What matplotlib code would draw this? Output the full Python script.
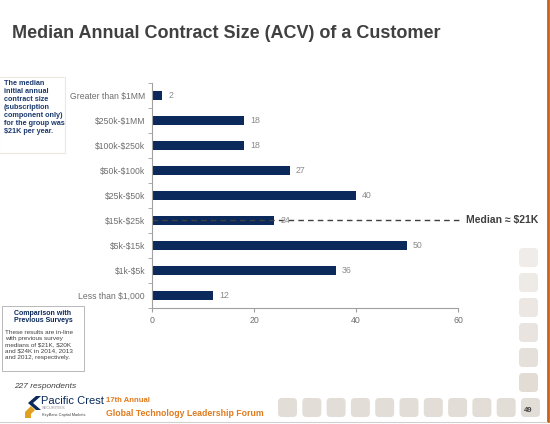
import numpy as np
import matplotlib
matplotlib.use("Agg")
import matplotlib.pyplot as plt
from matplotlib.patches import FancyBboxPatch, Rectangle, Polygon

plt.rcParams['font.family'] = ['Liberation Sans', 'DejaVu Sans']
plt.rcParams['text.parse_math'] = False

## data
categories = ["Greater than $1MM", "$250k-$1MM", "$100k-$250k", "$50k-$100k",
              "$25k-$50k", "$15k-$25k", "$5k-$15k", "$1k-$5k", "Less than $1,000"]
values = [2, 18, 18, 27, 40, 24, 50, 36, 12]
xticks = [0, 20, 40, 60]
median_row = "$15k-$25k"
median_label = "Median \u2248 $21K"

title = "Median Annual Contract Size (ACV) of a Customer"
side_note = "The median\ninitial annual\ncontract size\n(subscription\ncomponent only)\nfor the group was\n$21K per year."
box_title = "Comparison with\nPrevious Surveys"
box_body = ["These results are in-line", "with previous survey", "medians of $21K, $20K",
            "and $24K in 2014, 2013", "and 2012, respectively."]
respondents = "227 respondents"

navy = "#0b2a5b"
grey_txt = "#6e6e6e"
dark = "#404040"
orange = "#e07a1c"

W, H = 550, 424
fig = plt.figure(figsize=(W / 100, H / 100), dpi=100)

## slide background, pixel coordinates
bg = fig.add_axes([0, 0, 1, 1])
bg.set_xlim(0, W)
bg.set_ylim(H, 0)
bg.axis('off')

bg.text(12, 33, title, fontsize=13, fontweight='bold', color=dark, va='center', ha='left')

# note on the left
bg.add_patch(Rectangle((-1, 77), 66, 76, fc='white', ec='#ece8dc', lw=0.8))
bg.text(4, 80, side_note, fontsize=5.2, fontweight='bold', color='#1c3a6e',
        va='top', ha='left', linespacing=1.2)

# comparison box
bg.add_patch(Rectangle((2, 306), 82, 65, fc='white', ec='#b8b8b8', lw=0.7))
bg.text(43, 310, box_title, fontsize=5, fontweight='bold', color=navy,
        va='top', ha='center', linespacing=1.1)
for k, line in enumerate(box_body):
    bg.text(5, 332 + 6.3 * k, line, fontsize=4.6, color=dark, va='center', ha='left')

bg.text(14, 387, respondents, fontsize=6, style='italic', color=dark, va='center')

# logo
bg.add_patch(Polygon([(28, 403), (36, 396), (41, 396), (33, 403), (41, 410), (36, 410)],
                     fc=navy, ec='none'))
bg.add_patch(Polygon([(25, 418), (25, 412), (31, 406), (35, 410), (31, 414), (31, 418)],
                     fc='#e0a020', ec='none'))
bg.text(41, 401, "Pacific Crest", fontsize=8, color=navy, va='center')
bg.text(42, 408, "SECURITIES", fontsize=2.8, color='#909090', va='center')
bg.text(42, 415, "KeyBanc Capital Markets", fontsize=2.8, color=dark, va='center')
bg.text(106, 401, "17th Annual", fontsize=5.5, fontweight='bold', color=orange, va='center')
bg.text(106, 413, "Global Technology Leadership Forum", fontsize=6.3, fontweight='bold',
        color=orange, va='center')

# grey rounded squares
for k in range(11):
    bg.add_patch(FancyBboxPatch((278 + 24.3 * k, 398), 19, 19,
                                boxstyle='round,pad=0,rounding_size=4',
                                fc='#e3ddd7', ec='none'))
col_shades = ['#f0ece9', '#eeeae6', '#ece7e3', '#e9e4df', '#e6e0da', '#e2dcd5']
for k, c in enumerate(col_shades):
    bg.add_patch(FancyBboxPatch((519, 248 + 25 * k), 19, 19,
                                boxstyle='round,pad=0,rounding_size=4',
                                fc=c, ec='none'))
bg.text(528.5, 411, "49", fontsize=5.5, fontweight='bold', color=dark, ha='center', va='center')
bg.plot([547.5, 547.5], [0, 421], color='#c4621c', lw=2)
bg.plot([0, 547], [421.5, 421.5], color='#d0d0d0', lw=0.8)

## bar chart
ax = fig.add_axes([152 / W, 1 - 308 / H, 306 / W, 225 / H])
y = np.arange(len(categories))
ax.barh(y, values, height=0.38, color=navy)
for yi, v in zip(y, values):
    ax.text(v + 1.2, yi, str(v), fontsize=6.3, color='#8a8a8a', va='center', ha='left')

ax.set_xlim(0, 60)
ax.set_ylim(len(categories) - 0.5, -0.5)
ax.set_xticks(xticks)
ax.set_xticklabels([str(t) for t in xticks], fontsize=6.3, color=grey_txt)
ax.set_yticks(y)
ax.set_yticklabels(categories, fontsize=6.2, color=grey_txt)
ax.set_yticks(np.arange(len(categories) + 1) - 0.5, minor=True)
ax.tick_params(axis='y', which='major', length=0, pad=5)
ax.tick_params(axis='y', which='minor', length=3, color='#a0a0a0', direction='out')
ax.tick_params(axis='x', length=3, color='#a0a0a0', pad=3)
for s in ['top', 'right']:
    ax.spines[s].set_visible(False)
for s in ['left', 'bottom']:
    ax.spines[s].set_color('#a0a0a0')
    ax.spines[s].set_linewidth(0.8)

# median marker
mi = categories.index(median_row)
ax.plot([0, 60.8], [mi, mi], color=dark, lw=1, ls=(0, (4, 3)), clip_on=False)
ax.text(61.6, mi, median_label, fontsize=7.5, fontweight='bold', color=dark,
        va='center', ha='left')

fig.savefig("out.png", dpi=100)
